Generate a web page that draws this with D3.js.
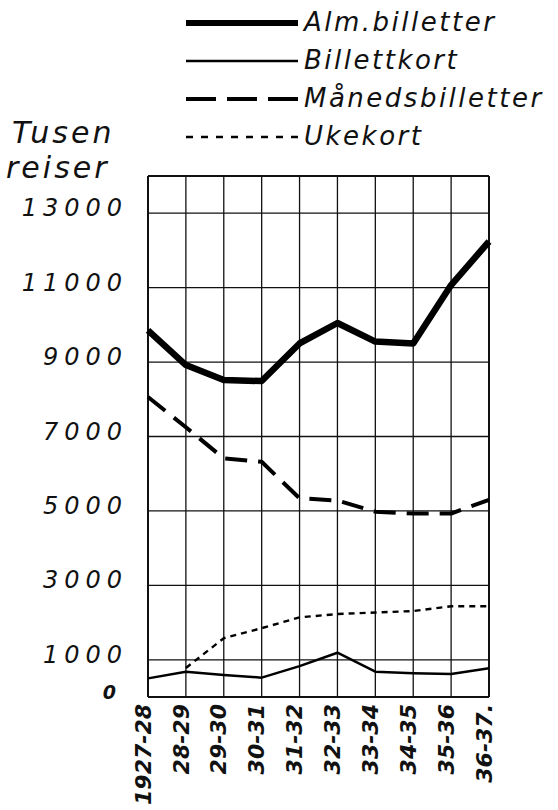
<!DOCTYPE html>
<html>
<head>
<meta charset="utf-8">
<script src="https://cdn.jsdelivr.net/npm/d3@7"></script>
<style>
  html, body { margin: 0; padding: 0; background: #fff; }
  text { font-family: "DejaVu Sans", sans-serif; fill: #111; }
</style>
</head>
<body>
<svg id="chart" width="558" height="810"></svg>
<script>
// years (x categories)
const categories = ["1927-28", "28-29", "29-30", "30-31", "31-32", "32-33", "33-34", "34-35", "35-36", "36-37."];

// thousand journeys per year
const almBilletter = [9850, 8920, 8520, 8490, 9500, 10050, 9550, 9500, 11070, 12240];
const billettkort = [500, 680, 590, 520, 830, 1190, 680, 640, 620, 770];
const manedsbilletter = [8060, 7250, 6410, 6320, 5340, 5280, 4980, 4930, 4930, 5300];
const ukekort = [null, 780, 1580, 1850, 2140, 2230, 2270, 2310, 2440, 2440];

const yTicks = [0, 1000, 3000, 5000, 7000, 9000, 11000, 13000];
const yGrid = [1000, 3000, 5000, 7000, 9000, 11000, 13000];

const svg = d3.select('#chart');

const x = d3.scalePoint().domain(categories).range([148, 489]);
const y = d3.scaleLinear().domain([0, 14000]).range([697, 176]);

const series = [
    { name: 'Alm.billetter', values: almBilletter, width: 6.5, dash: null, legendWidth: 6, legendDash: null },
    { name: 'Billettkort', values: billettkort, width: 2.5, dash: null, legendWidth: 2.5, legendDash: null },
    { name: 'Månedsbilletter', values: manedsbilletter, width: 4, dash: '22,11', legendWidth: 4, legendDash: '30,11' },
    { name: 'Ukekort', values: ukekort, width: 2.4, dash: '6,5', legendWidth: 2.4, legendDash: '7,8' }
];

// grid - vertical
svg.append('g')
    .selectAll('line')
    .data(categories)
    .join('line')
    .attr('x1', d => x(d)).attr('x2', d => x(d))
    .attr('y1', y(14000)).attr('y2', y(0))
    .attr('stroke', '#111')
    .attr('stroke-width', (d, i) => (i === 0 || i === categories.length - 1) ? 2 : 1.3);

// grid - horizontal
svg.append('g')
    .selectAll('line')
    .data(yGrid.concat([0, 14000]))
    .join('line')
    .attr('x1', x.range()[0]).attr('x2', x.range()[1])
    .attr('y1', d => y(d)).attr('y2', d => y(d))
    .attr('stroke', '#111')
    .attr('stroke-width', d => (d === 0 || d === 14000) ? 2 : 1.3);

// series lines
const line = d3.line()
    .defined(d => d[1] != null)
    .x(d => x(d[0]))
    .y(d => y(d[1]));

svg.append('g')
    .selectAll('path')
    .data(series)
    .join('path')
    .attr('d', s => line(categories.map((c, i) => [c, s.values[i]])))
    .attr('fill', 'none')
    .attr('stroke', '#000')
    .attr('stroke-width', s => s.width)
    .attr('stroke-dasharray', s => s.dash)
    .attr('stroke-linejoin', 'round');

// y labels
svg.append('g')
    .selectAll('text')
    .data(yTicks)
    .join('text')
    .attr('x', d => d === 0 ? 116 : 128)
    .attr('y', d => y(d) - 4)
    .attr('dominant-baseline', 'middle')
    .attr('text-anchor', 'end')
    .attr('font-style', 'italic')
    .attr('font-size', d => d === 0 ? 19 : 24)
    .attr('font-weight', d => d === 0 ? 'bold' : 'normal')
    .attr('letter-spacing', d => d === 0 ? 0 : 6)
    .text(d => d3.format('d')(d));

// unit label
svg.append('text')
    .attr('x', 12).attr('y', 143)
    .attr('font-style', 'italic')
    .attr('font-size', 30)
    .attr('letter-spacing', 3)
    .text('Tusen');
svg.append('text')
    .attr('x', 6).attr('y', 178)
    .attr('font-style', 'italic')
    .attr('font-size', 30)
    .attr('letter-spacing', 3)
    .text('reiser');

// x labels, rotated
svg.append('g')
    .selectAll('text')
    .data(categories)
    .join('text')
    .attr('transform', d => `translate(${x(d) - 5},704) rotate(-90)`)
    .attr('dy', '0.35em')
    .attr('text-anchor', 'end')
    .attr('font-style', 'italic')
    .attr('font-weight', 'bold')
    .attr('font-size', 22)
    .text(d => d);

// legend
const legend = svg.append('g')
    .selectAll('g')
    .data(series)
    .join('g')
    .attr('transform', (d, i) => `translate(186,${23 + i * 38})`);

legend.append('line')
    .attr('x1', 0).attr('x2', 112)
    .attr('stroke', '#000')
    .attr('stroke-width', d => d.legendWidth)
    .attr('stroke-dasharray', d => d.legendDash);

legend.append('text')
    .attr('x', 118).attr('y', 8)
    .attr('font-style', 'italic')
    .attr('font-size', 26)
    .attr('letter-spacing', 2.5)
    .text(d => d.name);
</script>
</body>
</html>
